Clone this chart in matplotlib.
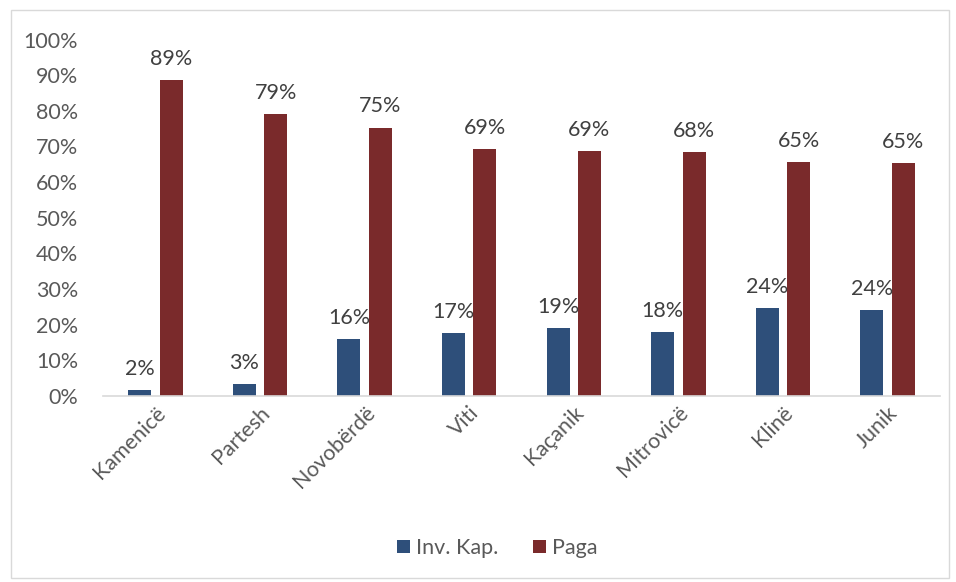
import numpy as np
import matplotlib.pyplot as plt
from matplotlib.patches import Rectangle

komunat = ['Kamenicë', 'Partesh', 'Novobërdë', 'Viti', 'Kaçanik', 'Mitrovicë', 'Klinë', 'Junik']
inv_kap = [1.7, 3.3, 16.0, 17.5, 19.0, 17.8, 24.5, 24.1]
paga = [88.6, 79.2, 75.3, 69.3, 68.8, 68.5, 65.5, 65.3]
inv_lbl = ['2%', '3%', '16%', '17%', '19%', '18%', '24%', '24%']
paga_lbl = ['89%', '79%', '75%', '69%', '69%', '68%', '65%', '65%']

plt.rcParams['font.family'] = ['Lato', 'DejaVu Sans']
blu = '#2E4F7A'
kuq = '#7A2A2B'
fs = 15.5

fig = plt.figure(figsize=(9.56, 5.82), dpi=100)
ax = fig.add_axes([0.108, 0.32, 0.875, 0.612])
fig.patches.append(Rectangle((0.011, 0.007), 0.982, 0.976, transform=fig.transFigure,
                             fill=False, edgecolor='#D9D9D9', linewidth=1))

x = np.arange(len(komunat))
w = 0.22
b1 = ax.bar(x - 0.15, inv_kap, w, color=blu, label='Inv. Kap.')
b2 = ax.bar(x + 0.15, paga, w, color=kuq, label='Paga')
for bars, lbls in ((b1, inv_lbl), (b2, paga_lbl)):
    for r, t in zip(bars, lbls):
        ax.annotate(t, (r.get_x() + r.get_width() / 2, r.get_height()), xytext=(0, 8),
                    textcoords='offset points', ha='center', va='bottom',
                    fontsize=fs, color='#404040')

ax.set_xlim(-0.5, len(komunat) - 0.5)
ax.set_ylim(0, 100)
ax.set_yticks(range(0, 101, 10))
ax.set_yticklabels([f'{v}%' for v in range(0, 101, 10)], fontsize=fs, color='#595959')
ax.set_xticks(x)
ax.set_xticklabels(komunat, rotation=45, ha='right', rotation_mode='anchor',
                   fontsize=fs, color='#595959')
ax.tick_params(axis='both', length=0)
ax.tick_params(axis='y', pad=18)
ax.tick_params(axis='x', pad=5)
for s in ['top', 'right', 'left']:
    ax.spines[s].set_visible(False)
ax.spines['bottom'].set_color('#D9D9D9')
ax.spines['bottom'].set_linewidth(1.2)

leg = fig.legend(loc='center', bbox_to_anchor=(0.52, 0.058), ncol=2, frameon=False,
                 fontsize=fs, handlelength=0.6, handleheight=0.6, columnspacing=1.6,
                 handletextpad=0.3)
for t in leg.get_texts():
    t.set_color('#595959')

fig.savefig('out.png', dpi=100)
